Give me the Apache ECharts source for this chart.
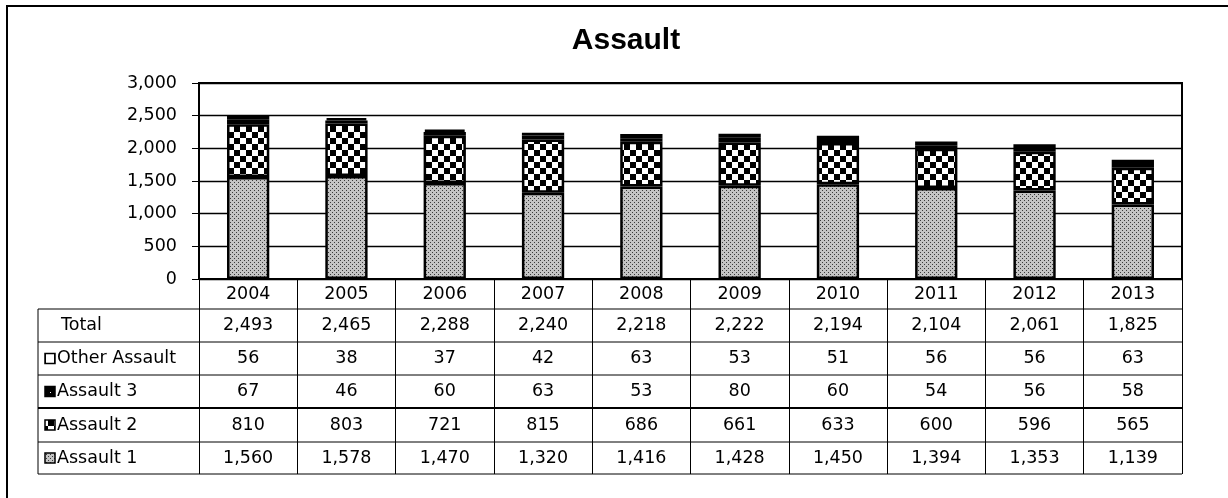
<!DOCTYPE html>
<html>
<head>
<meta charset="utf-8">
<script src="https://cdn.jsdelivr.net/npm/echarts@6/dist/echarts.min.js"></script>
<style>html,body{margin:0;padding:0;background:#fff;}#c{width:1228px;height:498px;}</style>
</head>
<body>
<div id="c"></div>
<script>
const years = ['2004','2005','2006','2007','2008','2009','2010','2011','2012','2013'];
const assault1 = [1560,1578,1470,1320,1416,1428,1450,1394,1353,1139];
const assault2 = [810,803,721,815,686,661,633,600,596,565];
const assault3 = [67,46,60,63,53,80,60,54,56,58];
const otherAssault = [56,38,37,42,63,53,51,56,56,63];
const totals = [2493,2465,2288,2240,2218,2222,2194,2104,2061,1825];
const yMin = 0, yMax = 3000, yStep = 500;

const FONT = 'DejaVu Sans';
const FS = 17.5;
function pat(w, h, draw) {
  const c = document.createElement('canvas'); c.width = w; c.height = h;
  const x = c.getContext('2d'); draw(x);
  return { image: c, repeat: 'repeat' };
}
const pDots = pat(4, 4, x => { x.fillStyle = '#c4c4c4'; x.fillRect(0,0,4,4); x.fillStyle = '#3a3a3a'; x.fillRect(0,0,1,1); x.fillRect(2,2,1,1); });
const pChecker = pat(12, 12, x => { x.fillStyle = '#fff'; x.fillRect(0,0,12,12); x.fillStyle = '#000'; x.fillRect(0,0,6,6); x.fillRect(6,6,6,6); });
const pBlack = pat(6, 6, x => { x.fillStyle = '#000'; x.fillRect(0,0,6,6); x.fillStyle = '#fff'; x.fillRect(2,2,1,1); });
const pOther = pat(8, 8, x => { x.fillStyle = '#fff'; x.fillRect(0,0,8,8); });
const pOtherIcon = pat(10, 10, x => { x.fillStyle = '#fff'; x.fillRect(0,0,10,10); x.fillStyle = '#000'; x.fillRect(4,0,2,10); });

const fmt = v => v.toLocaleString('en-US');

const tableRows = [
  { label: 'Total', values: totals, icon: null },
  { label: 'Other Assault', values: otherAssault, icon: pOtherIcon },
  { label: 'Assault 3', values: assault3, icon: pBlack },
  { label: 'Assault 2', values: assault2, icon: pChecker },
  { label: 'Assault 1', values: assault1, icon: pDots }
];

const chart = echarts.init(document.getElementById('c'), null, { renderer: 'canvas' });
const gridL = 199, gridR = 1182, gridT = 83, gridB = 279;
const rowLines = [309, 342, 375, 408, 442, 474];
const tableLeft = 38;

function barSeries(name, data, color) {
  return { name, type: 'bar', stack: 's', data, barWidth: '43%',
    itemStyle: { color, borderColor: '#000', borderWidth: 2.5 }, animation: false };
}

chart.setOption({
  animation: false,
  backgroundColor: '#fff',
  title: { text: 'Assault', left: 626, top: 26, textAlign: 'center', padding: 0,
    textStyle: { fontFamily: 'Liberation Sans', fontWeight: 'bold', fontSize: 30, color: '#000' } },
  grid: { left: gridL, right: 1228 - gridR, top: gridT, bottom: 498 - gridB, show: true,
    borderColor: '#000', borderWidth: 2, backgroundColor: 'transparent' },
  xAxis: { type: 'category', data: years,
    axisLine: { show: true, lineStyle: { color: '#000', width: 2 } },
    axisTick: { show: true, length: 474 - gridB, interval: 0, lineStyle: { color: '#000', width: 1 } },
    axisLabel: { margin: 6, color: '#000', fontFamily: FONT, fontSize: FS, interval: 0 } },
  yAxis: { type: 'value', min: yMin, max: yMax, interval: yStep,
    axisLine: { show: true, lineStyle: { color: '#000', width: 2 } },
    axisTick: { show: true, length: 7, lineStyle: { color: '#000', width: 1 } },
    splitLine: { show: true, lineStyle: { color: '#000', width: 1.3 } },
    axisLabel: { margin: 22, color: '#000', fontFamily: FONT, fontSize: FS, formatter: v => fmt(v) } },
  series: [
    barSeries('Assault 1', assault1, pDots),
    barSeries('Assault 2', assault2, pChecker),
    barSeries('Assault 3', assault3, pBlack),
    barSeries('Other Assault', otherAssault, pOther)
  ]
});

const g = [];
g.push({ type: 'rect', shape: { x: 7, y: 6, width: 1300, height: 600 }, style: { fill: 'none', stroke: '#000', lineWidth: 2 }, silent: true });
rowLines.forEach((y, i) => {
  g.push({ type: 'line', shape: { x1: tableLeft, y1: y, x2: gridR, y2: y }, style: { stroke: '#000', lineWidth: i === 3 ? 2 : 1 }, silent: true });
});
g.push({ type: 'line', shape: { x1: tableLeft, y1: rowLines[0], x2: tableLeft, y2: rowLines[rowLines.length - 1] }, style: { stroke: '#000', lineWidth: 1 }, silent: true });

tableRows.forEach((row, r) => {
  const cy = (rowLines[r] + rowLines[r + 1]) / 2;
  if (row.icon) {
    g.push({ type: 'rect', shape: { x: 45, y: cy - 5, width: 10, height: 10 },
      style: { fill: row.icon, stroke: '#000', lineWidth: 1.5 }, silent: true });
    g.push({ type: 'text', x: 57, y: cy, style: { text: row.label, fontFamily: FONT, fontSize: FS, fill: '#000', align: 'left', verticalAlign: 'middle' }, silent: true });
  } else {
    g.push({ type: 'text', x: 61, y: cy, style: { text: row.label, fontFamily: FONT, fontSize: FS, fill: '#000', align: 'left', verticalAlign: 'middle' }, silent: true });
  }
  row.values.forEach((v, i) => {
    const px = chart.convertToPixel({ xAxisIndex: 0 }, years[i]);
    g.push({ type: 'text', x: px, y: cy, style: { text: fmt(v), fontFamily: FONT, fontSize: FS, fill: '#000', align: 'center', verticalAlign: 'middle' }, silent: true });
  });
});

chart.setOption({ graphic: { elements: g } });
</script>
</body>
</html>
